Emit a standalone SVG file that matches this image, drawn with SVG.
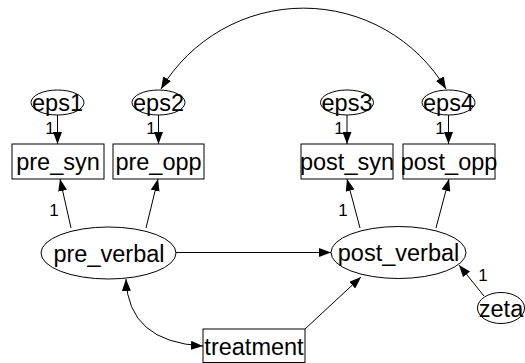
<svg xmlns="http://www.w3.org/2000/svg" width="525" height="363" viewBox="0 0 525 363">
<defs>
<marker id="ah" viewBox="0 0 12 9" refX="12" refY="4.5" markerWidth="12" markerHeight="9" markerUnits="userSpaceOnUse" orient="auto-start-reverse">
<path d="M0,0 L12,4.5 L0,9 Z" fill="#000"/>
</marker>
</defs>
<style>
.n{fill:#fff;stroke:#000;stroke-width:1}
.t{font-family:"Liberation Sans",Arial,sans-serif;font-size:23.5px;fill:#000;text-anchor:middle}
.l{font-family:"Liberation Sans",Arial,sans-serif;font-size:17px;fill:#000;text-anchor:middle}
.c{fill:none;stroke:#000;stroke-width:1}
</style>
<rect width="525" height="363" fill="#fff"/>
<g id="connectors">
<path class="c" d="M161,89 A166,166 0 0 1 446,89" marker-start="url(#ah)" marker-end="url(#ah)"/>
<line class="c" x1="57.5" y1="115" x2="57.5" y2="144" marker-end="url(#ah)"/>
<line class="c" x1="158.5" y1="115" x2="158.5" y2="144" marker-end="url(#ah)"/>
<line class="c" x1="347" y1="115" x2="347" y2="144" marker-end="url(#ah)"/>
<line class="c" x1="448.5" y1="115" x2="448.5" y2="144" marker-end="url(#ah)"/>
<line class="c" x1="71" y1="228" x2="60" y2="179" marker-end="url(#ah)"/>
<line class="c" x1="146" y1="228" x2="158" y2="179" marker-end="url(#ah)"/>
<line class="c" x1="360" y1="228" x2="347" y2="179" marker-end="url(#ah)"/>
<line class="c" x1="436" y1="228" x2="449" y2="179" marker-end="url(#ah)"/>
<line class="c" x1="176" y1="252.5" x2="331" y2="252.5" marker-end="url(#ah)"/>
<line class="c" x1="484" y1="296" x2="459" y2="265" marker-end="url(#ah)"/>
<line class="c" x1="305" y1="329" x2="361" y2="277" marker-end="url(#ah)"/>
<path class="c" d="M126,279 Q128,342 203,346" marker-start="url(#ah)" marker-end="url(#ah)"/>
<text class="l" x="50" y="134">1</text>
<text class="l" x="151" y="134">1</text>
<text class="l" x="339" y="134">1</text>
<text class="l" x="440" y="134">1</text>
<text class="l" x="54" y="216">1</text>
<text class="l" x="343" y="216">1</text>
<text class="l" x="483" y="281">1</text>
</g>
<g id="eps1"><ellipse class="n" cx="57.5" cy="102.5" rx="26.5" ry="12.5"/><text class="t" x="57.5" y="110.5">eps1</text></g>
<g id="eps2"><ellipse class="n" cx="158.5" cy="102.5" rx="26.5" ry="12.5"/><text class="t" x="158.5" y="110.5">eps2</text></g>
<g id="eps3"><ellipse class="n" cx="347" cy="102.5" rx="26.5" ry="12.5"/><text class="t" x="347" y="110.5">eps3</text></g>
<g id="eps4"><ellipse class="n" cx="448.5" cy="102.5" rx="26.5" ry="12.5"/><text class="t" x="448.5" y="110.5">eps4</text></g>
<g id="pre_syn"><rect class="n" x="12" y="144" width="92" height="35"/><text class="t" x="58" y="170">pre_syn</text></g>
<g id="pre_opp"><rect class="n" x="113" y="144" width="91" height="35"/><text class="t" x="158.5" y="170">pre_opp</text></g>
<g id="post_syn"><rect class="n" x="301" y="144" width="92" height="35"/><text class="t" x="347" y="170">post_syn</text></g>
<g id="post_opp"><rect class="n" x="403" y="144" width="92" height="35"/><text class="t" x="449" y="170">post_opp</text></g>
<g id="pre_verbal"><ellipse class="n" cx="108.5" cy="253" rx="67.5" ry="26"/><text class="t" x="109" y="261.5">pre_verbal</text></g>
<g id="post_verbal"><ellipse class="n" cx="398.5" cy="252.5" rx="67.5" ry="26"/><text class="t" x="398.5" y="261">post_verbal</text></g>
<g id="zeta"><ellipse class="n" cx="501" cy="308" rx="23.5" ry="15.5"/><text class="t" x="501" y="316.5">zeta</text></g>
<g id="treatment"><rect class="n" x="203" y="329" width="102" height="33.5"/><text class="t" x="254" y="355">treatment</text></g>
</svg>
